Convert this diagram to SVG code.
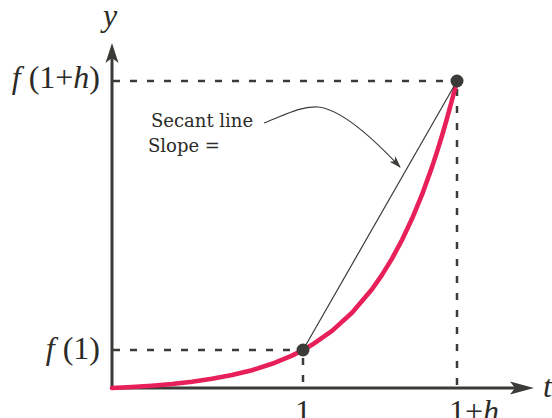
<svg xmlns="http://www.w3.org/2000/svg" width="552" height="418" viewBox="0 0 552 418">
<style>
.axis{stroke:#3b3b37;stroke-width:3;fill:none}
.dash{stroke:#3b3b37;stroke-width:2.5;stroke-dasharray:7 10;fill:none}
.curve{stroke:#e8205a;stroke-width:4.6;fill:none;stroke-linejoin:round;stroke-linecap:round}
.thin{stroke:#3b3b37;stroke-width:1.2;fill:none}
.dot{fill:#3b3b37}
.math{font-family:"Liberation Serif","DejaVu Serif",serif;font-size:32px;fill:#2b2b28}
.it{font-style:italic}
.note{font-family:"DejaVu Serif","Liberation Serif",serif;font-size:18px;fill:#2b2b28}
</style>
<defs>
<marker id="ah" viewBox="0 0 12 8" refX="11" refY="4" markerWidth="12" markerHeight="8" markerUnits="userSpaceOnUse" orient="auto">
<path d="M0,0 L12,4 L0,8 L3,4 Z" fill="#3b3b37"/>
</marker>
</defs>
<rect width="552" height="418" fill="#ffffff"/>
<g id="axes">
<line class="axis" x1="112" y1="388" x2="112" y2="56"/>
<path d="M112,43 L118.5,63 L112,58 L105.5,63 Z" fill="#3b3b37"/>
<line class="axis" x1="112" y1="388" x2="522" y2="388"/>
<path d="M534,388 L510,394.5 L515,388 L510,381.5 Z" fill="#3b3b37"/>
</g>
<g id="guides">
<line class="dash" x1="113" y1="81" x2="451" y2="81"/>
<line class="dash" x1="457" y1="89" x2="457" y2="386"/>
<line class="dash" x1="113" y1="350" x2="297" y2="350"/>
<line class="dash" x1="303" y1="358" x2="303" y2="386"/>
</g>
<g id="curve">
<polyline class="curve" points="112,388 132,387 152,385.7 172,384 192,381.7 212,378.8 232,375.1 252,370.2 272,363.8 292,355.6 303,350 312,344.8 332,330.9 352,312.7 372,289.2 382,274.9 392,258.6 402,240 412,218.8 422,194.7 432,167.1 437,151.9 442,135.7 447,118.4 452,100 457,81"/>
</g>
<g id="connectors">
<line class="thin" x1="303" y1="350" x2="457" y2="81"/>
<path class="thin" d="M264,123 C285,115 300,106 318,107 C340,109 370,135 400,167" marker-end="url(#ah)"/>
</g>
<g id="point-1">
<circle class="dot" cx="303" cy="350" r="6.5"/>
</g>
<g id="point-1h">
<circle class="dot" cx="457" cy="81" r="6.5"/>
</g>
<g id="label-y"><text class="math it" x="103" y="26">y</text></g>
<g id="label-t"><text class="math it" x="543" y="397">t</text></g>
<g id="label-f1h"><text class="math" x="100" y="88" text-anchor="end"><tspan class="it">f</tspan> (1+<tspan class="it">h</tspan>)</text></g>
<g id="label-f1"><text class="math" x="100" y="359" text-anchor="end"><tspan class="it">f</tspan> (1)</text></g>
<g id="label-1"><text class="math" x="303" y="422" text-anchor="middle">1</text></g>
<g id="label-1h"><text class="math" x="449" y="422">1+<tspan class="it">h</tspan></text></g>
<g id="annotation">
<text class="note" x="151" y="127">Secant line</text>
<text class="note" x="148" y="152">Slope =</text>
</g>
</svg>
